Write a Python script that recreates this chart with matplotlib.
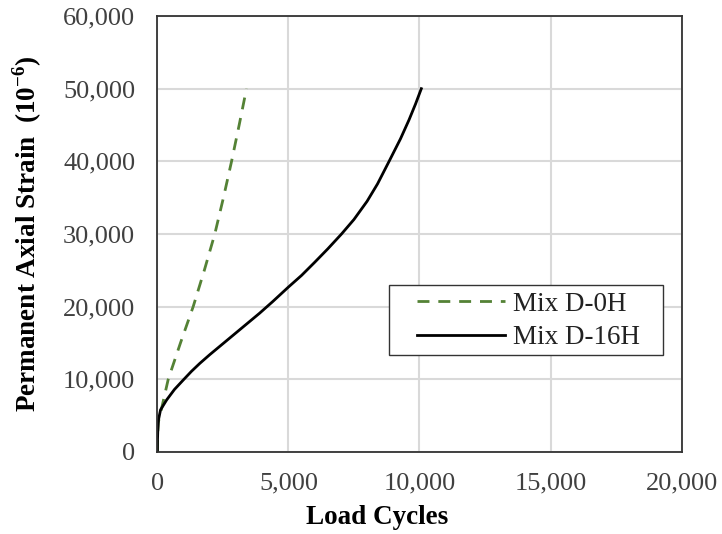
import matplotlib
matplotlib.use("Agg")
import matplotlib.pyplot as plt
from matplotlib.patches import Rectangle
from matplotlib.ticker import FuncFormatter

# data
cycles_0h = [0, 10, 30, 160, 413, 880, 1365, 1790, 2190, 2520, 2830, 3120, 3400]
strain_0h = [0, 2000, 4000, 6000, 10000, 15000, 20000, 25000, 30000, 35000, 40000, 45000, 50000]

cycles_16h = [0, 3, 15, 40, 120, 350, 650, 985, 1300, 1620, 2000, 2400, 2900, 3400, 3900, 4400,
              5000, 5500, 6000, 6500, 7025, 7500, 8000, 8400, 8840, 9275, 9600, 9850, 10070]
strain_16h = [0, 1500, 3000, 4400, 5800, 7150, 8600, 9900, 11100, 12200, 13400, 14600, 16100, 17600, 19100, 20700,
              22700, 24300, 26100, 27950, 30000, 32000, 34500, 36900, 40000, 43100, 45700, 47900, 50000]

labels = ["Mix D-0H", "Mix D-16H"]

plt.rcParams['font.family'] = ['Liberation Serif', 'DejaVu Serif']
plt.rcParams['mathtext.fontset'] = 'custom'
plt.rcParams['mathtext.rm'] = 'Liberation Serif'
plt.rcParams['mathtext.bf'] = 'Liberation Serif:bold'

fig = plt.figure(figsize=(7.22, 5.34), dpi=100)
ax = fig.add_axes([0.218, 0.1536, 0.726, 0.8164])

ax.plot(cycles_0h, strain_0h, color='#548235', lw=2.0, linestyle=(0, (4.3, 3.2)), label=labels[0])
ax.plot(cycles_16h, strain_16h, color='black', lw=2.0, label=labels[1],
        solid_joinstyle='round')

ax.set_xlim(0, 20000)
ax.set_ylim(0, 60000)
ax.set_xticks(range(0, 20001, 5000))
ax.set_yticks(range(0, 60001, 10000))
fmt = FuncFormatter(lambda v, p: f"{int(v):,}")
ax.xaxis.set_major_formatter(fmt)
ax.yaxis.set_major_formatter(fmt)
ax.grid(True, color='#d9d9d9', lw=1.5)
ax.set_axisbelow(True)
ax.tick_params(length=0, labelsize=19, colors='#404040')
ax.tick_params(axis='y', pad=16)
ax.tick_params(axis='x', pad=15)
for s in ax.spines.values():
    s.set_color('#333333')
    s.set_linewidth(1.3)

ax.set_xlabel('Load Cycles', fontsize=19.5, fontweight='bold')
ax.xaxis.set_label_coords(0.42, -0.122)
ax.set_ylabel(r'Permanent Axial Strain  (10$^{\mathbf{-6}}$)', fontsize=19.5, fontweight='bold')
ax.yaxis.set_label_coords(-0.217, 0.5)

# legend frame drawn separately so the inner padding can match
ax.add_patch(Rectangle((0.442, 0.2225), 0.523, 0.1605, transform=ax.transAxes,
                       facecolor='white', edgecolor='#333333', lw=1.0, zorder=4))
leg = ax.legend(loc='upper left', bbox_to_anchor=(0.495, 0.368), borderaxespad=0,
                fontsize=19.5, handlelength=3.26, frameon=False,
                borderpad=0, labelspacing=0.33, handletextpad=0.3)
leg.set_zorder(5)
for t in leg.get_texts():
    t.set_color('#222222')

plt.savefig('out.png', dpi=100)
